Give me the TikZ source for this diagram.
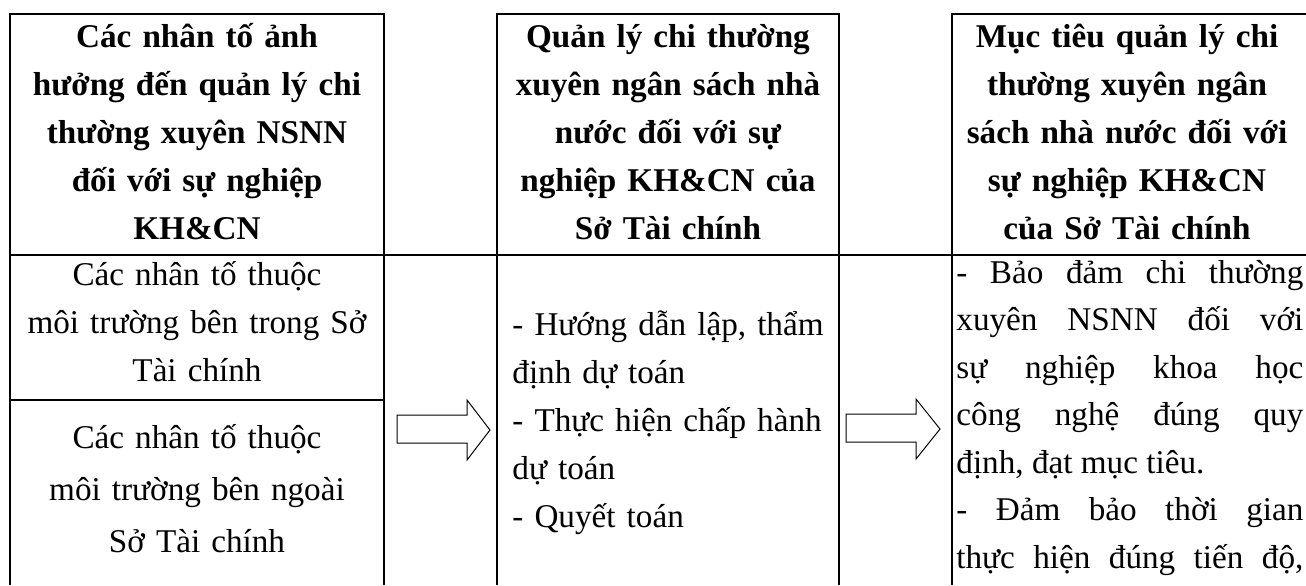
\documentclass[tikz,border=0pt]{standalone}
\usepackage{fontspec}
\setmainfont{Liberation Serif}

\begin{document}
\begin{tikzpicture}[
    x=0.5pt, y=-0.5pt,
    head/.style={
        anchor=base,
        align=center,
        inner sep=0pt,
        font=\bfseries\fontsize{16.6pt}{24pt}\selectfont
    },
    cell/.style={
        anchor=base,
        align=center,
        inner sep=0pt,
        text width=185pt,
        font=\fontsize{16.6pt}{24pt}\selectfont
    },
    listcell/.style={
        anchor=base west,
        align=left,
        inner sep=0pt,
        font=\fontsize{16.6pt}{24pt}\selectfont
    },
    grid/.style={line width=1pt},
    blockarrow/.style={draw, line width=0.5pt, line join=miter}
]
\useasboundingbox (0,0) rectangle (1306,585);

% table lines
\draw[grid] (10,585) -- (10,14) -- (384,14) -- (384,585);
\draw[grid] (497,585) -- (497,14) -- (839,14) -- (839,585);
\draw[grid] (952,585) -- (952,14) -- (1306,14);
\draw[grid] (10,255) -- (1306,255);
\draw[grid] (10,400) -- (384,400);

% header row
\node[head, text width=185pt] (hfactor) at (197,47) {
    Các nhân tố ảnh\\
    hưởng đến quản lý chi\\
    thường xuyên NSNN\\
    đối với sự nghiệp\\
    KH\&CN
};
\node[head, text width=170pt] (hmanage) at (668,47) {
    Quản lý chi thường\\
    xuyên ngân sách nhà\\
    nước đối với sự\\
    nghiệp KH\&CN của\\
    Sở Tài chính
};
\node[head, text width=174pt] (hgoal) at (1127,47) {
    Mục tiêu quản lý chi\\
    thường xuyên ngân\\
    sách nhà nước đối với\\
    sự nghiệp KH\&CN\\
    của Sở Tài chính
};

% body row
\node[cell] (inner) at (197,285) {
    Các nhân tố thuộc\\
    môi trường bên trong Sở\\
    Tài chính
};
\node[cell, font=\fontsize{16.6pt}{26pt}\selectfont] (outer) at (197,448) {
    Các nhân tố thuộc\\
    môi trường bên ngoài\\
    Sở Tài chính
};
\node[listcell, text width=163pt] (tasks) at (512,335) {
    - Hướng dẫn lập, thẩm\\
    định dự toán\\
    - Thực hiện chấp hành\\
    dự toán\\
    - Quyết toán
};
\node[listcell, align=justify, text width=173.5pt, font=\fontsize{16.6pt}{23.75pt}\selectfont] (goals) at (956,283) {
    \makebox[173.5pt][s]{- Bảo đảm chi thường}\\
    \makebox[173.5pt][s]{xuyên NSNN đối với}\\
    \makebox[173.5pt][s]{sự nghiệp khoa học}\\
    \makebox[173.5pt][s]{công nghệ đúng quy}\\
    định, đạt mục tiêu.\\
    \makebox[173.5pt][s]{- Đảm bảo thời gian}\\
    \makebox[173.5pt][s]{thực hiện đúng tiến độ,}
};

% block arrows in the gap columns
\draw[blockarrow] (397,415) -- (467,415) -- (467,400) -- (490,430)
    -- (467,460) -- (467,443) -- (397,443) -- cycle;
\draw[blockarrow] (846,414) -- (916,414) -- (916,399) -- (940,429)
    -- (916,459) -- (916,442) -- (846,442) -- cycle;

\end{tikzpicture}
\end{document}
